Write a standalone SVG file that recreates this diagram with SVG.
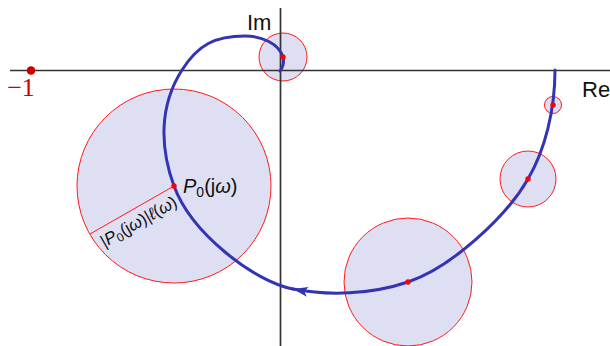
<svg xmlns="http://www.w3.org/2000/svg" width="610" height="346" viewBox="0 0 610 346">
<defs>
<style>
.disk{fill:#dedff2;stroke:#ff1a1a;stroke-width:1}
.axis{stroke:#333;stroke-width:1.7;fill:none}
.curve{stroke:#3333b3;stroke-width:3;fill:none;stroke-linecap:round}
.dot{fill:#ff0000}
.lbl{font-family:"Liberation Sans","DejaVu Sans",sans-serif;fill:#111}
</style>
<marker id="arr" viewBox="-16 -6 17 12" markerWidth="17" markerHeight="12" refX="0" refY="0" orient="auto" markerUnits="userSpaceOnUse">
<path d="M0,0 L-15,-5 L-11.5,0 L-15,5 Z" fill="#3333b3"/>
</marker>
</defs>
<rect width="610" height="346" fill="#ffffff"/>
<g id="disks">
<circle id="disk-big" class="disk" cx="174" cy="186" r="97"/>
<circle id="disk-top" class="disk" cx="283" cy="57" r="24"/>
<circle id="disk-small" class="disk" cx="553" cy="105" r="8.5"/>
<circle id="disk-mid" class="disk" cx="528" cy="179" r="28"/>
<circle id="disk-bottom" class="disk" cx="408" cy="282" r="64"/>
</g>
<g id="axes">
<line class="axis" x1="10" y1="70.5" x2="610" y2="70.5"/>
<line class="axis" x1="280.5" y1="8" x2="280.5" y2="346"/>
<text class="lbl" x="247" y="29.5" font-size="22">Im</text>
<text class="lbl" x="582" y="96.5" font-size="22">Re</text>
</g>
<g id="minus-one">
<circle cx="31" cy="70.5" r="4.3" fill="#cc0000"/>
<text x="21" y="96" font-size="26" text-anchor="middle" fill="#cc0000" font-family="Liberation Serif, DejaVu Serif, serif">−1</text>
</g>
<g id="connectors">
<path class="curve" marker-end="url(#arr)" d="M555,70 C555,110 545,150 528,179 C505.5,218 450.7,267.6 408,282 C370.1,294.8 327.3,295.7 293,289"/>
<path class="curve" d="M293,289 C253.8,281.4 191.2,233 174,186 C159.6,146.6 159.4,105.4 182,70 C198.1,44.7 215,36 245,36 C262,36 278.8,43.7 283,57 C284.5,61.75 282.5,68.5 280,71"/>
</g>
<g id="radius">
<line x1="174" y1="186" x2="90" y2="234" stroke="#ff1a1a" stroke-width="1"/>
<text class="lbl" font-size="17" fill="#222" text-anchor="middle" transform="translate(132,210) rotate(-29.74)" x="0" y="19">|<tspan font-style="italic">P</tspan><tspan font-size="12" dy="3">0</tspan><tspan dy="-3">(j</tspan><tspan font-style="italic">ω</tspan>)|<tspan font-style="italic">ℓ</tspan>(<tspan font-style="italic">ω</tspan>)</text>
</g>
<g id="points">
<circle class="dot" cx="174" cy="186" r="2.7"/>
<circle class="dot" cx="283" cy="57" r="2.7"/>
<circle class="dot" cx="553" cy="105" r="2.7"/>
<circle class="dot" cx="528" cy="179" r="2.7"/>
<circle class="dot" cx="408" cy="282" r="2.7"/>
</g>
<g id="p0-label">
<text class="lbl" x="183" y="193" font-size="20"><tspan font-style="italic">P</tspan><tspan font-size="14" dy="4">0</tspan><tspan dy="-4">(j</tspan><tspan font-style="italic">ω</tspan>)</text>
</g>
</svg>
